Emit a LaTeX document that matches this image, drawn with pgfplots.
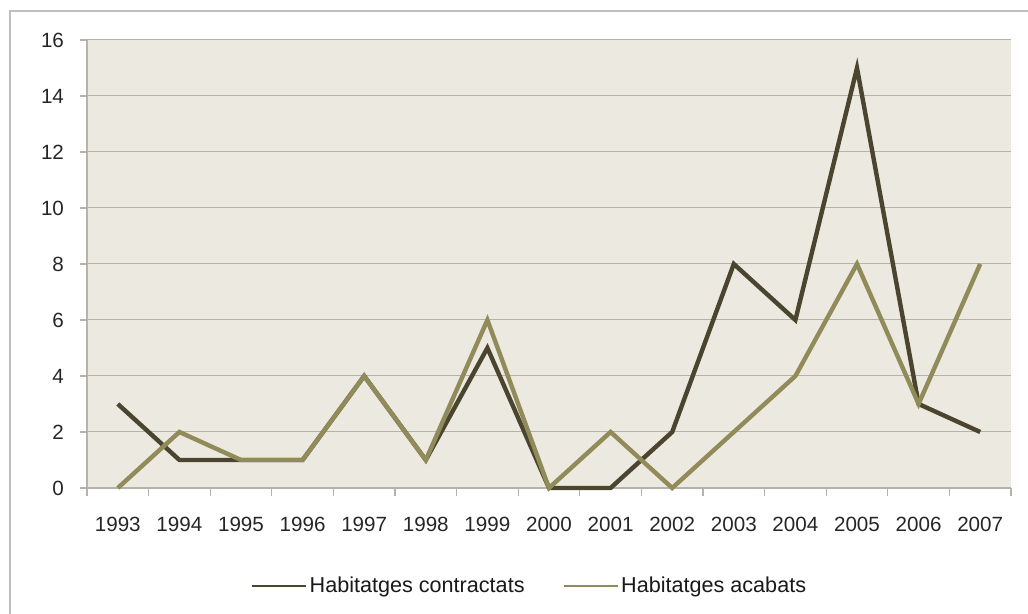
\documentclass[border=0pt]{standalone}
\usepackage{pgfplots}
\pgfplotsset{compat=1.18}
\usepackage{fontspec}
\setmainfont{Liberation Sans}
\definecolor{bgbeige}{RGB}{236,233,224}
\definecolor{darkline}{RGB}{75,69,48}
\definecolor{lightline}{RGB}{145,139,90}
\definecolor{gridgray}{RGB}{180,178,170}
\definecolor{framegray}{RGB}{190,190,190}
\begin{document}
\begin{tikzpicture}
\useasboundingbox (0pt,0pt) rectangle (514pt,307pt);
\draw[line width=1pt, framegray] (5pt,0pt) -- (5pt,301.5pt) -- (514pt,301.5pt);
\begin{axis}[
  at={(43.5pt,63pt)}, anchor=south west,
  scale only axis, width=462pt, height=224pt,
  xmin=0, xmax=15, ymin=0, ymax=16,
  axis x line=bottom, axis y line=left,
  axis line style={-, gridgray, line width=0.6pt},
  axis background/.style={fill=bgbeige},
  ymajorgrids, grid style={gridgray, line width=0.5pt},
  ytick={0,2,...,16},
  xtick={0.5,1.5,...,14.5},
  xticklabels={1993,1994,1995,1996,1997,1998,1999,2000,2001,2002,2003,2004,2005,2006,2007},
  minor xtick={0,1,...,15},
  tick align=outside,
  major tick length=3.5pt, minor tick length=4pt,
  major x tick style={draw=none},
  tick style={gridgray, line width=0.6pt},
  minor tick style={gridgray, line width=0.6pt},
  ticklabel style={font=\fontsize{10.3}{12}\selectfont, text=black!85},
  /pgf/number format/assume math mode=true,
  yticklabel style={xshift=-4.5pt},
  xticklabel style={yshift=-7.5pt},
  legend style={at={(0.479,-0.219)}, anchor=center, draw=none, fill=none,
    font=\fontsize{10.8}{12}\selectfont, legend columns=2,
    nodes={inner xsep=1pt, text=black!90},
    /tikz/every even column/.append style={column sep=18pt}},
  legend image code/.code={\draw[#1, line width=1.3pt] (0,0) -- (27pt,0);},
  clip=false,
]
\addplot[darkline, line width=2.2pt] coordinates {
(0.5,3) (1.5,1) (2.5,1) (3.5,1) (4.5,4) (5.5,1) (6.5,5) (7.5,0) (8.5,0) (9.5,2) (10.5,8) (11.5,6) (12.5,15) (13.5,3) (14.5,2)};
\addlegendentry{Habitatges contractats}
\addplot[lightline, line width=2.2pt] coordinates {
(0.5,0) (1.5,2) (2.5,1) (3.5,1) (4.5,4) (5.5,1) (6.5,6) (7.5,0) (8.5,2) (9.5,0) (10.5,2) (11.5,4) (12.5,8) (13.5,3) (14.5,8)};
\addlegendentry{Habitatges acabats}
\end{axis}
\end{tikzpicture}
\end{document}
